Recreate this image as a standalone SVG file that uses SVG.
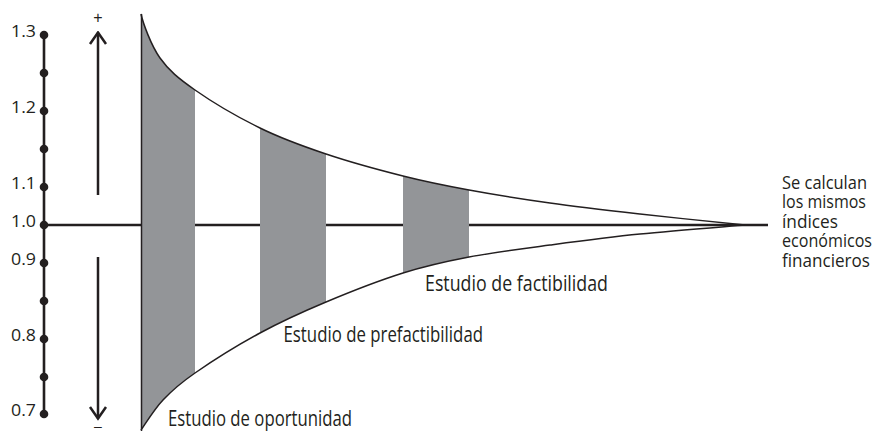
<svg xmlns="http://www.w3.org/2000/svg" width="874" height="431" viewBox="0 0 874 431">
  <style>
    .ink { stroke: #231f20; fill: none; }
    .bar { fill: #939598; stroke: none; }
    .dot { fill: #231f20; }
    .num { font-family: "Open Sans", "Liberation Sans", sans-serif; font-size: 16.5px; fill: #231f20; text-anchor: end; }
    .lbl { font-family: "Open Sans", "Liberation Sans", sans-serif; font-size: 21px; fill: #231f20; }
    .note { font-family: "Open Sans", "Liberation Sans", sans-serif; font-size: 19px; fill: #231f20; }
    .sign { font-family: "Liberation Sans", sans-serif; fill: #231f20; text-anchor: middle; }
  </style>
  <defs>
    <marker id="chev" viewBox="-14 -10 16 20" refX="0" refY="0" markerWidth="16" markerHeight="20" markerUnits="userSpaceOnUse" orient="auto">
      <path d="M-11.5,-8 L0,0 L-11.5,8" fill="none" stroke="#231f20" stroke-width="2.5"/>
    </marker>
  </defs>

  <rect width="874" height="431" fill="#ffffff"/>

  <g id="connectors">
    <line id="baseline-1-0" class="ink" x1="44" y1="225" x2="768" y2="225" stroke-width="2.6"/>
    <line id="arrow-up" class="ink" x1="98" y1="195" x2="98" y2="32.5" stroke-width="2.5" marker-end="url(#chev)"/>
    <line id="arrow-down" class="ink" x1="98" y1="257" x2="98" y2="418.5" stroke-width="2.5" marker-end="url(#chev)"/>
  </g>

  <g id="stage-oportunidad">
    <path class="bar" d="M141,14 C143,23 151,45.3 160,58 C169,70.7 178.3,78.3 195,90 L195,373 C178.8,384.2 172,390.5 163,400 C154,409.5 144.7,425 141,430 Z"/>
    <text class="lbl" x="168" y="425.5" textLength="184" lengthAdjust="spacingAndGlyphs">Estudio de oportunidad</text>
  </g>
  <g id="stage-prefactibilidad">
    <path class="bar" d="M260,128 C281.8,138.7 302.2,146 326,154 L326,302 C302.2,312 281.8,321.2 260,333 Z"/>
    <text class="lbl" x="283.5" y="341.5" textLength="199.5" lengthAdjust="spacingAndGlyphs">Estudio de prefactibilidad</text>
  </g>
  <g id="stage-factibilidad">
    <path class="bar" d="M403,176 C426.8,182 444.5,185.5 469,190 L469,257 C444.5,261.7 426.8,265.5 403,273 Z"/>
    <text class="lbl" x="425" y="291" textLength="183" lengthAdjust="spacingAndGlyphs">Estudio de factibilidad</text>
  </g>

  <g id="funnel">
    <path class="ink" stroke-width="1.5" d="M141,14 C143,23 151,45.3 160,58 C169,70.7 178.3,78.3 195,90 C211.7,101.7 238.2,117.3 260,128 C281.8,138.7 302.2,146 326,154 C349.8,162 379.2,170 403,176 C426.8,182 444.5,185.5 469,190 C493.5,194.5 521.5,199 550,203 C578.5,207 607.5,210.3 640,214 C672.5,217.7 727.5,223.2 745,225"/>
    <path class="ink" stroke-width="1.5" d="M141,430 C144.7,425 154,409.5 163,400 C172,390.5 178.8,384.2 195,373 C211.2,361.8 238.2,344.8 260,333 C281.8,321.2 302.2,312 326,302 C349.8,292 379.2,280.5 403,273 C426.8,265.5 444.5,261.7 469,257 C493.5,252.3 521.5,248.8 550,245 C578.5,241.2 607.5,237.3 640,234 C672.5,230.7 727.5,226.5 745,225"/>
    <line class="ink" stroke-width="1.5" x1="141.5" y1="14" x2="141.5" y2="431"/>
  </g>

  <g id="scale">
    <line class="ink" x1="44" y1="35" x2="44" y2="414" stroke-width="2.6"/>
    <circle class="dot" cx="44" cy="35" r="4.3"/>
    <circle class="dot" cx="44" cy="73" r="4.3"/>
    <circle class="dot" cx="44" cy="111" r="4.3"/>
    <circle class="dot" cx="44" cy="149" r="4.3"/>
    <circle class="dot" cx="44" cy="187" r="4.3"/>
    <circle class="dot" cx="44" cy="225" r="4.3"/>
    <circle class="dot" cx="44" cy="263" r="4.3"/>
    <circle class="dot" cx="44" cy="301" r="4.3"/>
    <circle class="dot" cx="44" cy="339" r="4.3"/>
    <circle class="dot" cx="44" cy="377" r="4.3"/>
    <circle class="dot" cx="44" cy="414" r="4.3"/>
    <text class="num" x="36" y="37" textLength="25" lengthAdjust="spacingAndGlyphs">1.3</text>
    <text class="num" x="36" y="113" textLength="25" lengthAdjust="spacingAndGlyphs">1.2</text>
    <text class="num" x="36" y="189" textLength="25" lengthAdjust="spacingAndGlyphs">1.1</text>
    <text class="num" x="36" y="227" textLength="25" lengthAdjust="spacingAndGlyphs">1.0</text>
    <text class="num" x="36" y="265" textLength="25" lengthAdjust="spacingAndGlyphs">0.9</text>
    <text class="num" x="36" y="341" textLength="25" lengthAdjust="spacingAndGlyphs">0.8</text>
    <text class="num" x="36" y="416" textLength="25" lengthAdjust="spacingAndGlyphs">0.7</text>
  </g>

  <g id="signs">
    <text class="sign" x="98" y="23" font-size="16">+</text>
    <text class="sign" x="98" y="431" font-size="14">–</text>
  </g>

  <g id="result-note" transform="translate(782,0) scale(0.85,1)">
    <text class="note" x="0" y="189" textLength="100" lengthAdjust="spacingAndGlyphs">Se calculan</text>
    <text class="note" x="0" y="208.5" textLength="98.8" lengthAdjust="spacingAndGlyphs">los mismos</text>
    <text class="note" x="0" y="228" textLength="65.9" lengthAdjust="spacingAndGlyphs">índices</text>
    <text class="note" x="0" y="247.5" textLength="105.9" lengthAdjust="spacingAndGlyphs">económicos</text>
    <text class="note" x="0" y="267" textLength="103.5" lengthAdjust="spacingAndGlyphs">financieros</text>
  </g>
</svg>
